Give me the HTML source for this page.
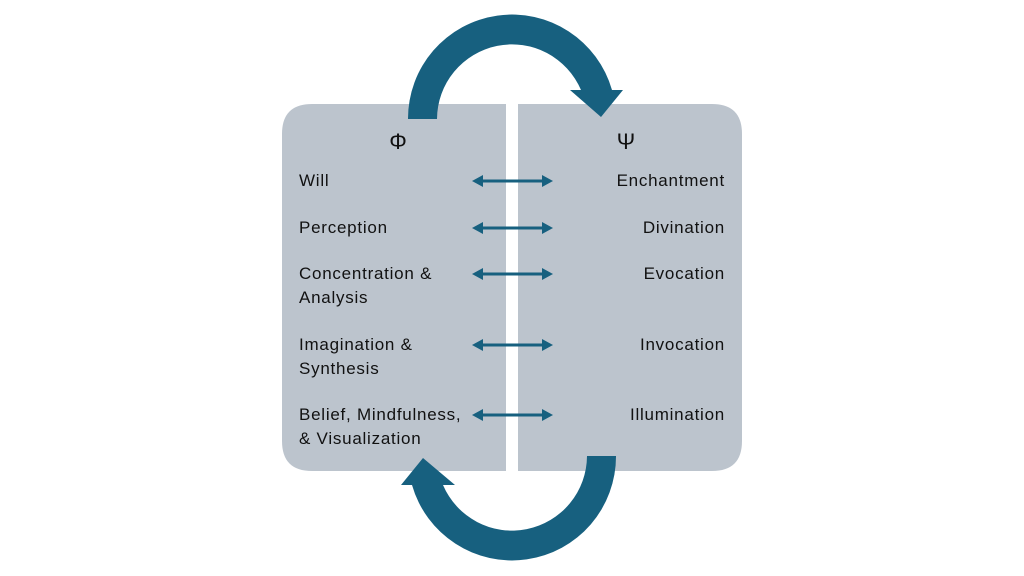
<!DOCTYPE html>
<html><head><meta charset="utf-8"><style>
body{margin:0;background:#fff}
svg{display:block}
text{font-family:"Liberation Sans",sans-serif;font-size:17px;letter-spacing:0.75px;fill:#111}
.g{font-size:22px;letter-spacing:0}
</style></head><body>
<svg width="1024" height="576" viewBox="0 0 1024 576">
<path d="M312 104 H506 V471 H312 Q282 471 282 441 V134 Q282 104 312 104Z" fill="#bcc4cd"/>
<path d="M518 104 H712 Q742 104 742 134 V441 Q742 471 712 471 H518Z" fill="#bcc4cd"/>
<g fill="#17607f">
<path d="M408 119 A104 104 0 0 1 612 90 L623 90 L601 117 L570 90 L581 90 A75 75 0 0 0 437 119 Z"/>
<path d="M616 456 A104 104 0 0 1 412 485 L401 485 L423 458 L455 485 L443 485 A75 75 0 0 0 587 456 Z"/>
</g>
<g stroke="#17607f" stroke-width="3" fill="#17607f">
<g id="a"><line x1="480" y1="181" x2="545" y2="181"/><path d="M472 181 L483 175 L483 187Z" stroke="none"/><path d="M553 181 L542 175 L542 187Z" stroke="none"/></g>
<use href="#a" y="47"/><use href="#a" y="93"/><use href="#a" y="164"/><use href="#a" y="234"/>
</g>
<text class="g" x="398" y="149" text-anchor="middle">Φ</text>
<text class="g" x="626" y="149" text-anchor="middle">Ψ</text>
<text x="299" y="186">Will</text>
<text x="299" y="233">Perception</text>
<text x="299" y="279">Concentration &amp;</text>
<text x="299" y="303">Analysis</text>
<text x="299" y="350">Imagination &amp;</text>
<text x="299" y="374">Synthesis</text>
<text x="299" y="420">Belief, Mindfulness,</text>
<text x="299" y="444">&amp; Visualization</text>
<g text-anchor="end">
<text x="725" y="186">Enchantment</text>
<text x="725" y="233">Divination</text>
<text x="725" y="279">Evocation</text>
<text x="725" y="350">Invocation</text>
<text x="725" y="420">Illumination</text>
</g>
</svg>
</body></html>
